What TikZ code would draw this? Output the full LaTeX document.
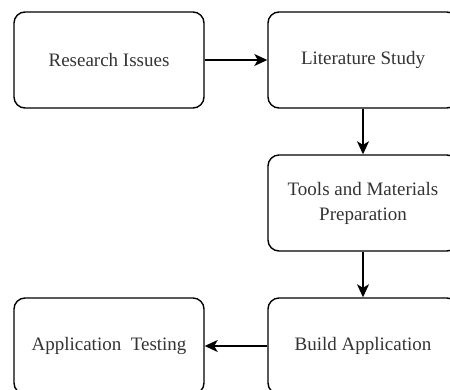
\documentclass[tikz,border=0pt]{standalone}
\usepackage{fontspec}
\setmainfont{Liberation Serif}
\usepackage{xcolor}
\usetikzlibrary{positioning,arrows.meta}

\begin{document}
\begin{tikzpicture}[
    x=1pt, y=-1pt,
    stage/.style={rectangle, rounded corners=11pt, draw, line width=1.4pt,
      minimum width=190pt, minimum height=96pt, align=center,
      font=\fontsize{19}{25}\selectfont, text=black!80},
    flow/.style={line width=1.4pt, -{Stealth[length=13pt, width=12pt, inset=3.5pt]}}
  ]
  \useasboundingbox (0,0) rectangle (450,390);
  \clip (0,0) rectangle (450,390);

  % Stages
  \node[stage] (issues)  at (109,60)  {Research Issues};
  \node[stage] (study)   at (363,60)  {Literature Study};
  \node[stage] (prep)    at (363,203) {Tools and Materials\\Preparation};
  \node[stage] (build)   at (363,346) {Build Application};
  \node[stage] (testing) at (109,346) {Application~~Testing};

  % Flow
  \draw[flow] (issues)--(study);
  \draw[flow] (study)--(prep);
  \draw[flow] (prep)--(build);
  \draw[flow] (build)--(testing);
\end{tikzpicture}
\end{document}
